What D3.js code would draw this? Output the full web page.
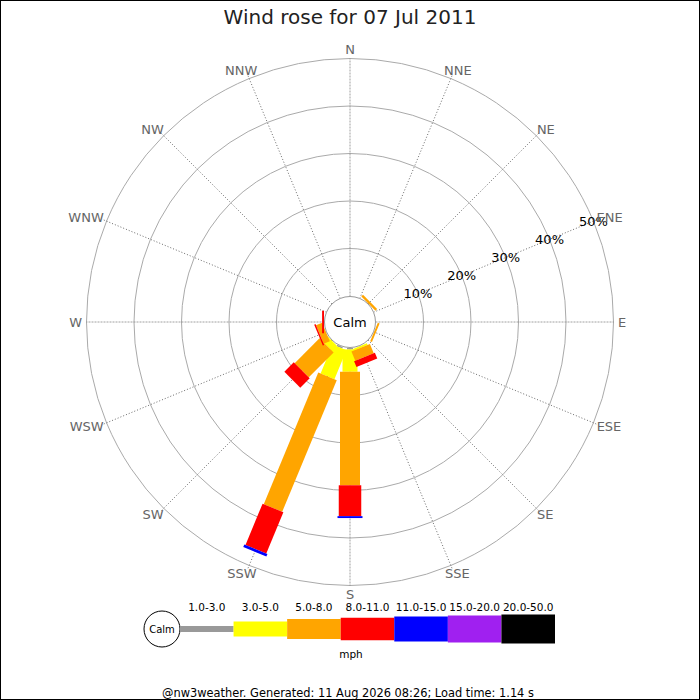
<!DOCTYPE html>
<html>
<head>
<meta charset="utf-8">
<script src="https://cdn.jsdelivr.net/npm/d3@7"></script>
<style>
  body { margin: 0; background: #fff; }
  text { font-family: "DejaVu Sans", sans-serif; }
</style>
</head>
<body>
<div id="rose"></div>
<script>
// directions, clockwise from north
const directions = ["N","NNE","NE","ENE","E","ESE","SE","SSE","S","SSW","SW","WSW","W","WNW","NW","NNW"];
// speed classes (mph)
const speedLabels = ["1.0-3.0","3.0-5.0","5.0-8.0","8.0-11.0","11.0-15.0","15.0-20.0","20.0-50.0"];
const speedColors = ["#999999","#ffff00","#ffa500","#ff0000","#0000ff","#a020f0","#000000"];

// percent of time, one array per speed class, order = directions
const speed1to3   = [0,0,0,0,0,0,0,0,0.3,0.3,0,0,0,0,0,0];
const speed3to5   = [0,0,0,0,0,0,0,0.4,4.7,6.6,1.5,0,0,0,0,0];
const speed5to8   = [0,0,0.5,0,0,0.4,0,2.1,23.9,30.0,7.4,1.4,0,0,0,0];
const speed8to11  = [0,0,0,0,0,0,0,1.3,6.5,9.4,2.8,0.3,0.4,0,0,0];
const speed11to15 = [0,0,0,0,0,0,0,0,0.4,0.6,0,0,0,0,0,0];
const speed15to20 = [0,0,0,0,0,0,0,0,0,0,0,0,0,0,0,0];
const speed20to50 = [0,0,0,0,0,0,0,0,0,0,0,0,0,0,0,0];

const ringValues = [10,20,30,40,50];
const ringLabels = ["10%","20%","30%","40%","50%"];

const title = "Wind rose for 07 Jul 2011";
const footer = "@nw3weather. Generated: 11 Aug 2026 08:26; Load time: 1.14 s";

const series = [speed1to3, speed3to5, speed5to8, speed8to11, speed11to15, speed15to20, speed20to50];
const barWidths = [6, 15, 20, 22.5, 25, 27, 29];

// table for d3.stack
const table = directions.map((d, i) => {
  const row = {dir: d};
  speedLabels.forEach((s, k) => row[s] = series[k][i]);
  return row;
});

const W = 700, H = 700, cx = 350, cy = 322;
const calmR = 25.5;

const svg = d3.select("#rose").append("svg")
    .attr("width", W).attr("height", H);

svg.append("rect")
    .attr("x", 0.5).attr("y", 0.5)
    .attr("width", W - 1).attr("height", H - 1)
    .attr("fill", "#fff").attr("stroke", "#000");

const r = d3.scaleLinear().domain([0, 50]).range([26, 263.5]);
const angle = d3.scaleLinear().domain([0, directions.length]).range([0, 360]);

const g = svg.append("g").attr("transform", "translate(" + cx + "," + cy + ")");

// rings
g.selectAll("circle.ring")
  .data(ringValues)
  .enter().append("circle")
    .attr("class", "ring")
    .attr("r", d => r(d))
    .attr("fill", "none")
    .attr("stroke", "#aaa")
    .attr("stroke-width", 1);

// spokes
g.selectAll("line.spoke")
  .data(directions)
  .enter().append("line")
    .attr("class", "spoke")
    .attr("x1", (d, i) => calmR * Math.sin(angle(i) * Math.PI / 180))
    .attr("y1", (d, i) => -calmR * Math.cos(angle(i) * Math.PI / 180))
    .attr("x2", (d, i) => (i % 4 == 0 ? r(50) : 267) * Math.sin(angle(i) * Math.PI / 180))
    .attr("y2", (d, i) => -(i % 4 == 0 ? r(50) : 267) * Math.cos(angle(i) * Math.PI / 180))
    .attr("stroke", (d, i) => i % 4 == 0 ? "#888" : "#444")
    .attr("stroke-width", 0.8)
    .attr("stroke-dasharray", (d, i) => i % 4 == 0 ? "2,1" : "1,2");

// stacked bars
const stacked = d3.stack().keys(speedLabels)(table);

stacked.forEach((layer, k) => {
  g.append("g").selectAll("rect")
    .data(layer.filter(d => d[1] - d[0] > 0))
    .enter().append("rect")
      .attr("x", -barWidths[k] / 2)
      .attr("width", barWidths[k])
      .attr("y", d => -r(d[1]))
      .attr("height", d => r(d[1]) - r(d[0]))
      .attr("transform", d => "rotate(" + angle(directions.indexOf(d.data.dir)) + ")")
      .attr("fill", speedColors[k]);
});

// calm circle
g.append("circle")
    .attr("r", calmR)
    .attr("fill", "#fff")
    .attr("stroke", "#999");
g.append("text")
    .attr("text-anchor", "middle")
    .attr("dy", "0.35em")
    .attr("font-size", 13)
    .text("Calm");

// percent labels along ENE
const lblAng = angle(3) * Math.PI / 180;
g.selectAll("text.pct")
  .data(ringValues)
  .enter().append("text")
    .attr("class", "pct")
    .attr("x", d => r(d) * Math.sin(lblAng))
    .attr("y", d => -r(d) * Math.cos(lblAng))
    .attr("dy", "0.35em")
    .attr("text-anchor", "middle")
    .attr("font-size", 13)
    .attr("fill", "#000")
    .text((d, i) => ringLabels[i]);

// compass labels
g.selectAll("text.dir")
  .data(directions)
  .enter().append("text")
    .attr("class", "dir")
    .attr("text-anchor", "middle")
    .attr("dy", "0.35em")
    .attr("font-size", 13)
    .attr("fill", "#666")
    .text(d => d)
    .each(function(d, i) {
      const a = angle(i) * Math.PI / 180;
      const hw = this.getComputedTextLength() / 2;
      d3.select(this)
        .attr("x", (268 + hw) * Math.sin(a))
        .attr("y", -(268 + 4.5) * Math.cos(a));
    });

// title
svg.append("text")
    .attr("x", 350).attr("y", 24)
    .attr("text-anchor", "middle")
    .attr("font-size", 20)
    .attr("fill", "#222")
    .text(title);

// legend
const legY = 629;
const lx = d3.scaleBand().domain(speedLabels).range([180, 555]);

svg.append("circle")
    .attr("cx", 162).attr("cy", legY).attr("r", 18)
    .attr("fill", "#fff").attr("stroke", "#000");
svg.append("text")
    .attr("x", 162).attr("y", legY)
    .attr("dy", "0.35em")
    .attr("text-anchor", "middle")
    .attr("font-size", 10)
    .text("Calm");

svg.selectAll("rect.leg")
  .data(speedLabels)
  .enter().append("rect")
    .attr("class", "leg")
    .attr("x", d => lx(d))
    .attr("width", lx.bandwidth())
    .attr("y", (d, k) => legY - barWidths[k] / 2)
    .attr("height", (d, k) => barWidths[k])
    .attr("fill", (d, k) => speedColors[k]);

svg.selectAll("text.leg")
  .data(speedLabels)
  .enter().append("text")
    .attr("class", "leg")
    .attr("x", d => lx(d) + lx.bandwidth() / 2)
    .attr("y", 611)
    .attr("text-anchor", "middle")
    .attr("font-size", 10.5)
    .text(d => d);

svg.append("text")
    .attr("x", 351).attr("y", 658)
    .attr("text-anchor", "middle")
    .attr("font-size", 10.5)
    .text("mph");

svg.append("text")
    .attr("x", 348).attr("y", 697)
    .attr("text-anchor", "middle")
    .attr("font-size", 11.4)
    .text(footer);
</script>
</body>
</html>
